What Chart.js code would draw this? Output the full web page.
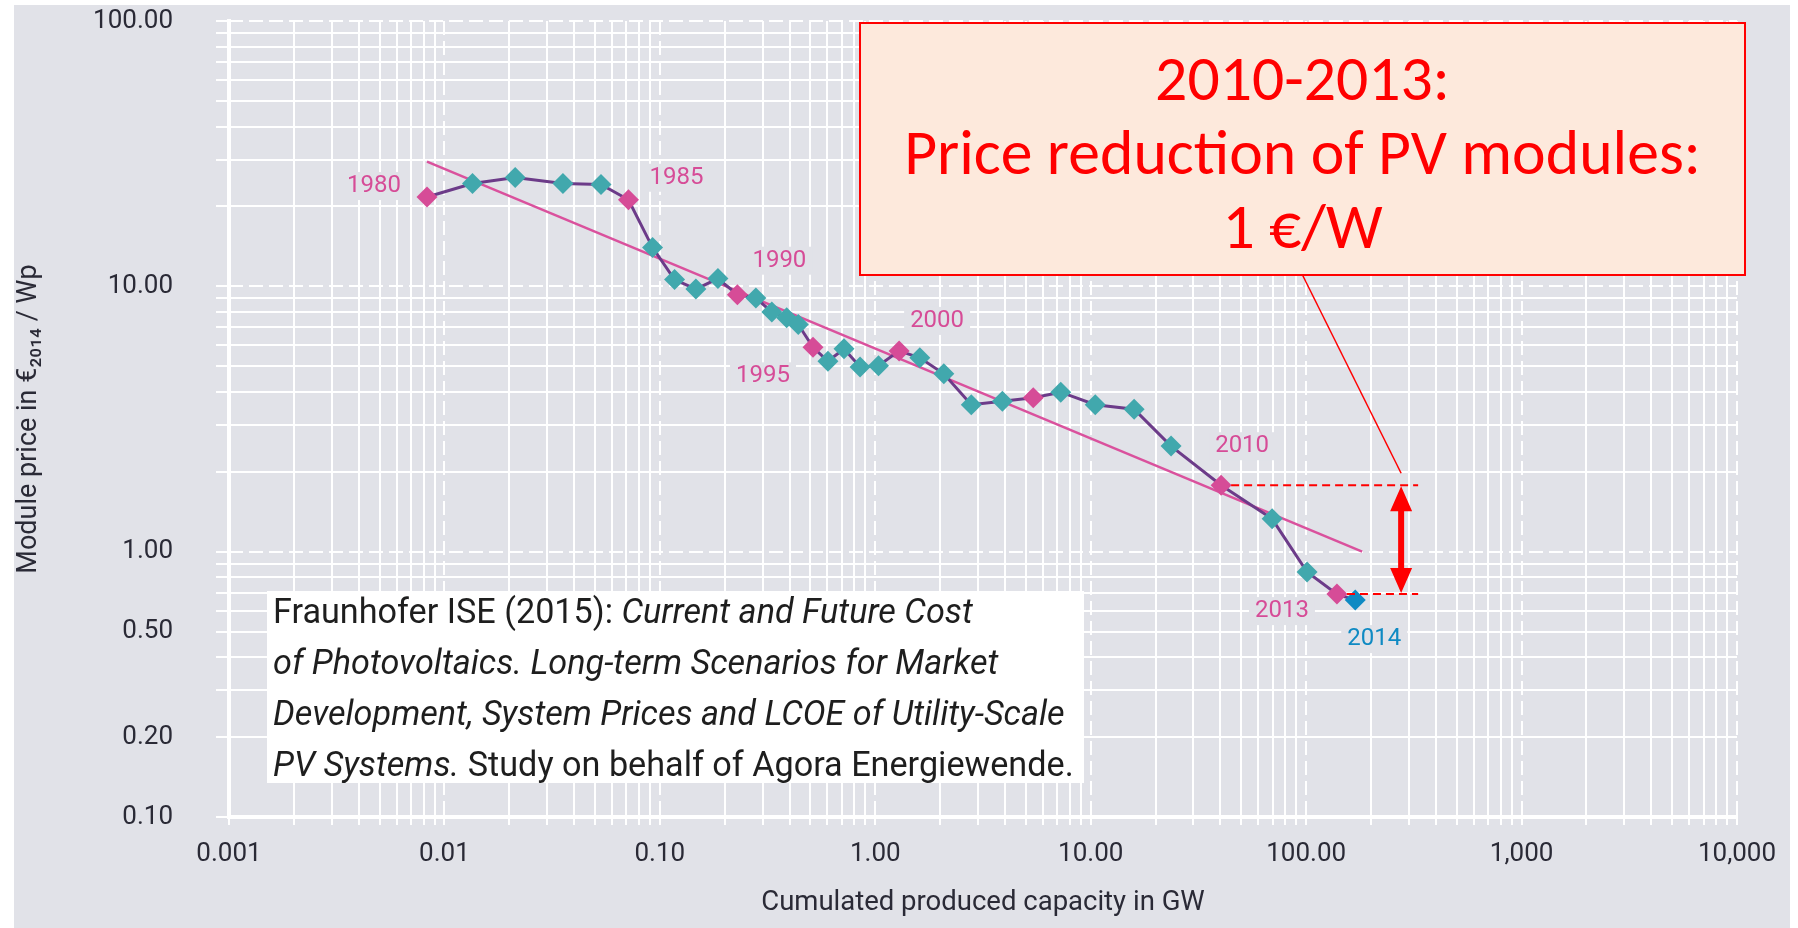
<!DOCTYPE html>
<html>
<head>
<meta charset="utf-8">
<script src="https://cdn.jsdelivr.net/npm/chart.js@4.4.1/dist/chart.umd.min.js"></script>
<style>
html, body { margin: 0; padding: 0; background: #fff; }
canvas { display: block; }
</style>
</head>
<body>
<canvas id="pv" width="1798" height="928"></canvas>
<script>
var years = [1980, 1981, 1982, 1983, 1984, 1985, 1986, 1987, 1988, 1989,
             1990, 1991, 1992, 1993, 1994, 1995, 1996, 1997, 1998, 1999,
             2000, 2001, 2002, 2003, 2004, 2005, 2006, 2007, 2008, 2009,
             2010, 2011, 2012, 2013, 2014];
var capacityGW = [0.0083, 0.0135, 0.0213, 0.0355, 0.0533, 0.0715, 0.0925, 0.117, 0.147, 0.186,
                  0.229, 0.279, 0.331, 0.388, 0.439, 0.514, 0.603, 0.716, 0.850, 1.035,
                  1.29, 1.61, 2.08, 2.79, 3.89, 5.41, 7.26, 10.5, 15.9, 23.6,
                  40.3, 69.5, 101, 139, 169];
var priceEurWp = [21.7, 24.4, 25.7, 24.4, 24.2, 21.2, 14.0, 10.6, 9.77, 10.7,
                  9.30, 9.03, 8.01, 7.62, 7.18, 5.89, 5.22, 5.82, 4.97, 5.02,
                  5.71, 5.38, 4.68, 3.58, 3.69, 3.80, 3.99, 3.58, 3.44, 2.50,
                  1.78, 1.33, 0.838, 0.692, 0.657];

// fitted learning curve (straight line in log-log)
var trendCapacityGW = [0.0083, 182];
var trendPriceEurWp = [29.5, 1.0];

var xDecades = [0.001, 0.01, 0.1, 1, 10, 100, 1000, 10000];
var xTickLabels = ['0.001', '0.01', '0.10', '1.00', '10.00', '100.00', '1,000', '10,000'];
var yLabelValues = [0.1, 0.2, 0.5, 1, 10, 100];
var yTickLabels = ['0.10', '0.20', '0.50', '1.00', '10.00', '100.00'];

var markedYears = [1980, 1985, 1990, 1995, 2000, 2010, 2013, 2014];

// 2010 -> 2013 price gap marker
var gapFromYear = 2010;
var gapToYear = 2013;
var arrowCapacityGW = 276;
var gapLineEndGW = 331;

var calloutLines = ['2010-2013:', 'Price reduction of PV modules:', '1 €/W'];
var citationLines = [
  [['Fraunhofer ISE (2015): ', false], ['Current and Future Cost', true]],
  [['of Photovoltaics. Long-term Scenarios for Market', true]],
  [['Development, System Prices and LCOE of Utility-Scale', true]],
  [['PV Systems.', true], [' Study on behalf of Agora Energiewende.', false]]
];

var BG = '#e1e2e8';
var TEAL = '#41a8ad';
var PINK = '#d64c97';
var BLUE = '#0f8ac3';
var TEXT = '#2a2a36';
var FONT = 'Roboto, "DejaVu Sans", sans-serif';

function logGrid(lo, hi) {
  var out = [];
  for (var e = lo; e < hi; e++) {
    for (var m = 1; m <= 9; m++) out.push(+(m * Math.pow(10, e)).toPrecision(3));
  }
  out.push(Math.pow(10, hi));
  return out;
}
function isDecade(v) {
  var l = Math.log10(v);
  return Math.abs(l - Math.round(l)) < 1e-9;
}
var xGrid = logGrid(-3, 4);
var yGrid = logGrid(-1, 2);

var pointColors = years.map(function (yr) {
  if (yr === 2014) return BLUE;
  if (yr % 5 === 0 || yr === 2013) return PINK;
  return TEAL;
});

// label placement around marked points (px offsets from the point)
var labelOffset = {
  1980: [-53, -11], 1985: [48, -22], 1990: [42, -34], 1995: [-50, 29],
  2000: [38, -30], 2010: [21, -39], 2013: [-55, 17], 2014: [19, 39]
};
var calloutBox = { left: 860, top: 23, right: 1745, bottom: 275 };
var citeBox = { left: 267, top: 591, right: 1084, bottom: 783 };

var decor = {
  id: 'decor',
  beforeDraw: function (chart) {
    var ctx = chart.ctx;
    ctx.save();
    ctx.fillStyle = '#fff';
    ctx.fillRect(0, 0, chart.width, chart.height);
    ctx.fillStyle = BG;
    ctx.fillRect(14, 5, 1776, chart.height - 5);
    ctx.restore();
  },
  beforeDatasetsDraw: function (chart) {
    var ctx = chart.ctx;
    var xs = chart.scales.x, ys = chart.scales.y;
    ctx.save();

    // year labels, knocking out the grid behind them
    ctx.font = '24px ' + FONT;
    ctx.textAlign = 'center';
    ctx.textBaseline = 'middle';
    markedYears.forEach(function (yr) {
      var i = years.indexOf(yr);
      var px = xs.getPixelForValue(capacityGW[i]) + labelOffset[yr][0];
      var py = ys.getPixelForValue(priceEurWp[i]) + labelOffset[yr][1];
      var w = ctx.measureText(String(yr)).width;
      ctx.fillStyle = BG;
      ctx.fillRect(px - w / 2 - 6, py - 14, w + 12, 28);
      ctx.fillStyle = yr === 2014 ? BLUE : PINK;
      ctx.fillText(String(yr), px, py);
    });

    // citation box
    ctx.fillStyle = '#fff';
    ctx.fillRect(citeBox.left, citeBox.top, citeBox.right - citeBox.left, citeBox.bottom - citeBox.top);
    ctx.textAlign = 'left';
    ctx.textBaseline = 'alphabetic';
    var base = 30;
    function segWidth(line, size) {
      var w = 0;
      line.forEach(function (s) {
        ctx.font = (s[1] ? 'italic ' : '') + size + 'px ' + FONT;
        w += ctx.measureText(s[0]).width;
      });
      return w;
    }
    var size = base * 801 / segWidth(citationLines[3], base);
    citationLines.forEach(function (line, li) {
      var x = citeBox.left + 6;
      var y = 623 + li * 51;
      line.forEach(function (s) {
        ctx.font = (s[1] ? 'italic ' : '') + size + 'px ' + FONT;
        ctx.fillStyle = '#1e1e1e';
        ctx.fillText(s[0], x, y);
        x += ctx.measureText(s[0]).width;
      });
    });

    // callout box
    ctx.fillStyle = '#fde9dc';
    ctx.fillRect(calloutBox.left, calloutBox.top, calloutBox.right - calloutBox.left, calloutBox.bottom - calloutBox.top);
    ctx.strokeStyle = '#ff0000';
    ctx.lineWidth = 2;
    ctx.strokeRect(calloutBox.left, calloutBox.top, calloutBox.right - calloutBox.left, calloutBox.bottom - calloutBox.top);
    var cf = 'Carlito, Lato, "Open Sans", sans-serif';
    ctx.font = '60px ' + cf;
    var csize = 60 * 797 / ctx.measureText(calloutLines[1]).width;
    ctx.font = csize + 'px ' + cf;
    ctx.fillStyle = '#ff0000';
    ctx.textAlign = 'center';
    var cx = (calloutBox.left + calloutBox.right) / 2;
    calloutLines.forEach(function (t, i) {
      ctx.fillText(t, cx, 100 + i * 74);
    });
    ctx.restore();
  },
  afterDatasetsDraw: function (chart) {
    var ctx = chart.ctx;
    var xs = chart.scales.x, ys = chart.scales.y;
    var a = years.indexOf(gapFromYear), b = years.indexOf(gapToYear);
    var yTop = ys.getPixelForValue(priceEurWp[a]);
    var yBot = ys.getPixelForValue(priceEurWp[b]);
    var xEnd = xs.getPixelForValue(gapLineEndGW);
    var xArrow = xs.getPixelForValue(arrowCapacityGW);
    ctx.save();
    ctx.strokeStyle = '#ff0000';
    ctx.lineWidth = 2;
    ctx.setLineDash([8, 5]);
    ctx.beginPath();
    ctx.moveTo(xs.getPixelForValue(capacityGW[a]) + 10, yTop);
    ctx.lineTo(xEnd, yTop);
    ctx.moveTo(xs.getPixelForValue(capacityGW[b]) + 10, yBot);
    ctx.lineTo(xEnd, yBot);
    ctx.stroke();
    ctx.setLineDash([]);

    // double-headed arrow
    var head = 26, hw = 11;
    ctx.lineWidth = 6;
    ctx.beginPath();
    ctx.moveTo(xArrow, yTop + head - 2);
    ctx.lineTo(xArrow, yBot - head + 2);
    ctx.stroke();
    ctx.fillStyle = '#ff0000';
    ctx.beginPath();
    ctx.moveTo(xArrow, yTop + 1);
    ctx.lineTo(xArrow - hw, yTop + head);
    ctx.lineTo(xArrow + hw, yTop + head);
    ctx.closePath();
    ctx.moveTo(xArrow, yBot - 1);
    ctx.lineTo(xArrow - hw, yBot - head);
    ctx.lineTo(xArrow + hw, yBot - head);
    ctx.closePath();
    ctx.fill();

    // pointer from callout to the arrow
    ctx.lineWidth = 1.5;
    ctx.beginPath();
    ctx.moveTo((calloutBox.left + calloutBox.right) / 2, calloutBox.bottom);
    ctx.lineTo(xArrow, yTop - 12);
    ctx.stroke();
    ctx.restore();
  }
};

Chart.defaults.font.family = FONT;

var ctx = document.getElementById('pv').getContext('2d');
var chart = new Chart(ctx, {
  type: 'line',
  data: {
    datasets: [{
      label: 'Module price',
      data: capacityGW.map(function (c, i) { return { x: c, y: priceEurWp[i] }; }),
      borderColor: '#6c3b89',
      borderWidth: 3,
      pointStyle: 'rectRot',
      pointRadius: 10.5,
      pointBorderWidth: 0,
      pointBackgroundColor: pointColors,
      pointBorderColor: pointColors,
      tension: 0,
      order: 1
    }, {
      label: 'Learning curve',
      data: trendCapacityGW.map(function (c, i) { return { x: c, y: trendPriceEurWp[i] }; }),
      borderColor: '#da519d',
      borderWidth: 2.5,
      pointRadius: 0,
      order: 2
    }]
  },
  options: {
    responsive: false,
    animation: false,
    layout: { padding: { left: 0, top: 21, right: 61, bottom: 0 } },
    plugins: { legend: { display: false }, tooltip: { enabled: false } },
    scales: {
      x: {
        type: 'logarithmic', position: 'bottom', min: 0.001, max: 10000,
        afterBuildTicks: function (s) { s.ticks = xGrid.map(function (v) { return { value: v }; }); },
        afterFit: function (s) { s.height = 111; s.paddingLeft = 0; s.paddingRight = 0; },
        grid: {
          color: function (c) { return c.tick && isDecade(c.tick.value) ? 'rgba(0,0,0,0)' : '#fff'; },
          lineWidth: 2, tickColor: '#fff', tickLength: 8, tickWidth: 2
        },
        border: { display: true, color: '#fff', width: 4 },
        ticks: {
          autoSkip: false, maxRotation: 0, minRotation: 0, padding: 14, color: TEXT,
          font: { size: 26 },
          callback: function (v) { var i = xDecades.indexOf(v); return i < 0 ? '' : xTickLabels[i]; }
        },
        title: {
          display: true, text: 'Cumulated produced capacity in GW', color: TEXT,
          font: { size: 27.5 }, padding: { top: 8, bottom: 8 }
        }
      },
      x2: {
        type: 'logarithmic', position: 'top', min: 0.001, max: 10000,
        afterBuildTicks: function (s) { s.ticks = xDecades.slice(1).map(function (v) { return { value: v }; }); },
        afterFit: function (s) { s.height = 0; s.paddingLeft = 0; s.paddingRight = 0; },
        grid: { color: '#fff', lineWidth: 2, drawTicks: false },
        border: { display: false, dash: [14, 6] },
        ticks: { display: false }
      },
      y: {
        type: 'logarithmic', position: 'left', min: 0.1, max: 100,
        afterBuildTicks: function (s) { s.ticks = yGrid.map(function (v) { return { value: v }; }); },
        // fixed axis width; drop the label overhang padding so the plot can reach the top
        afterFit: function (s) { s.width = 229; s.paddingTop = 0; s.paddingBottom = 0; },
        grid: {
          color: function (c) { return c.tick && isDecade(c.tick.value) ? 'rgba(0,0,0,0)' : '#fff'; },
          lineWidth: 2, tickColor: '#fff', tickLength: 13, tickWidth: 2
        },
        border: { display: true, color: '#fff', width: 4 },
        ticks: {
          autoSkip: false, padding: 43, color: TEXT, font: { size: 26 },
          callback: function (v) { var i = yLabelValues.indexOf(v); return i < 0 ? '' : yTickLabels[i]; }
        },
        title: {
          display: true, text: 'Module price in €\u2082\u2080\u2081\u2084 / Wp', color: TEXT,
          font: { size: 27 }, padding: { top: 13, bottom: 13 }
        }
      },
      y2: {
        type: 'logarithmic', position: 'right', min: 0.1, max: 100,
        afterBuildTicks: function (s) { s.ticks = [1, 10, 100].map(function (v) { return { value: v }; }); },
        afterFit: function (s) { s.width = 0; s.paddingTop = 0; s.paddingBottom = 0; },
        grid: { color: '#fff', lineWidth: 2, drawTicks: false },
        border: { display: false, dash: [14, 6] },
        ticks: { display: false }
      }
    }
  },
  plugins: [decor]
});
</script>
</body>
</html>
